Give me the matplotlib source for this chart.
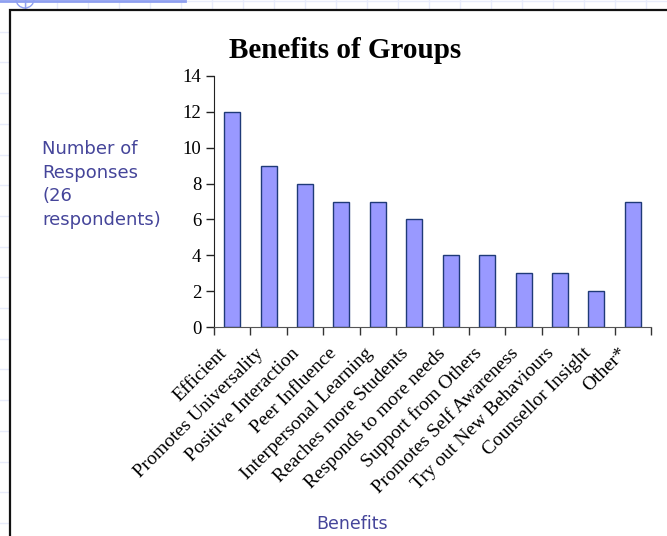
import matplotlib
matplotlib.use("Agg")
import matplotlib.pyplot as plt
from matplotlib.patches import Rectangle, Circle
from matplotlib.lines import Line2D
from matplotlib.transforms import ScaledTranslation
import numpy as np

categories = [
    "Efficient", "Promotes Universality", "Positive Interaction", "Peer Influence",
    "Interpersonal Learning", "Reaches more Students", "Responds to more needs",
    "Support from Others", "Promotes Self Awareness", "Try out New Behaviours",
    "Counsellor Insight", "Other*",
]
responses = [12, 9, 8, 7, 7, 6, 4, 4, 3, 3, 2, 7]
y_ticks = [0, 2, 4, 6, 8, 10, 12, 14]

W, H = 667, 536
fig = plt.figure(figsize=(W / 100, H / 100), dpi=100)
fig.patch.set_facecolor("white")

# slide backdrop: faint graph-paper grid behind a white chart frame
bg = fig.add_axes([0, 0, 1, 1])
bg.set_xlim(0, W)
bg.set_ylim(H, 0)
bg.axis("off")
grid_col = "#e8ecfb"
for gx in np.arange(57 - 31 * 2, W, 31):
    bg.add_line(Line2D([gx, gx], [0, H], color=grid_col, lw=1.0, zorder=0))
for gy in np.arange(32 - 31, H, 30.7):
    bg.add_line(Line2D([0, W], [gy, gy], color=grid_col, lw=1.0, zorder=0))
bg.add_line(Line2D([0, 185], [0.8, 0.8], color="#8fa0f0", lw=2, zorder=2))
bg.add_patch(Circle((25, -1), 9, fill=False, ec="#8fa0f0", lw=1, zorder=2))
bg.add_line(Line2D([25, 25], [0, 9], color="#8fa0f0", lw=1, zorder=2))
bg.add_patch(Rectangle((9.5, 9.5), W, H, facecolor="white", edgecolor="#111111",
                       lw=1.6, zorder=3))

ax = fig.add_axes([214 / W, 1 - 327 / H, 437 / W, 251 / H])
ax.set_facecolor("none")
x = np.arange(len(categories))
ax.bar(x, responses, width=0.44, color="#9999ff", edgecolor="#1f3a78", linewidth=1.0)

ax.set_xlim(-0.5, len(categories) - 0.5)
ax.set_ylim(0, 14)
ax.set_yticks(y_ticks)
ax.set_yticklabels([str(v) for v in y_ticks], fontfamily="Liberation Serif", fontsize=13.5)
ax.tick_params(axis="y", direction="out", length=6, width=1, pad=3, color="#222222")

ax.set_xticks(x)
ax.set_xticklabels(categories, fontfamily="Liberation Serif", fontsize=14,
                   rotation=45, ha="right", va="center", rotation_mode="anchor")
ax.tick_params(axis="x", which="major", length=0, pad=17)
shift = ScaledTranslation(-8 / 100, 0, fig.dpi_scale_trans)
for lbl in ax.get_xticklabels():
    lbl.set_transform(lbl.get_transform() + shift)
ax.set_xticks(np.arange(-0.5, len(categories), 1.0), minor=True)
ax.tick_params(axis="x", which="minor", direction="out", length=6, width=1, color="#333333")

for s in ("top", "right"):
    ax.spines[s].set_visible(False)
ax.spines["left"].set_color("#222222")
ax.spines["bottom"].set_color("#555555")

fig.text(345 / W, 1 - 50 / H, "Benefits of Groups", ha="center", va="center",
         fontfamily="Liberation Serif", fontweight="bold", fontsize=21)
fig.text(42 / W, 1 - 140 / H, "Number of\nResponses\n(26\nrespondents)", ha="left", va="top",
         fontfamily="DejaVu Sans", fontsize=13, color="#45459a", linespacing=1.4)
fig.text(352 / W, 1 - 524 / H, "Benefits", ha="center", va="center",
         fontfamily="DejaVu Sans", fontsize=12.5, color="#45459a")

fig.savefig("out.png", dpi=100)
